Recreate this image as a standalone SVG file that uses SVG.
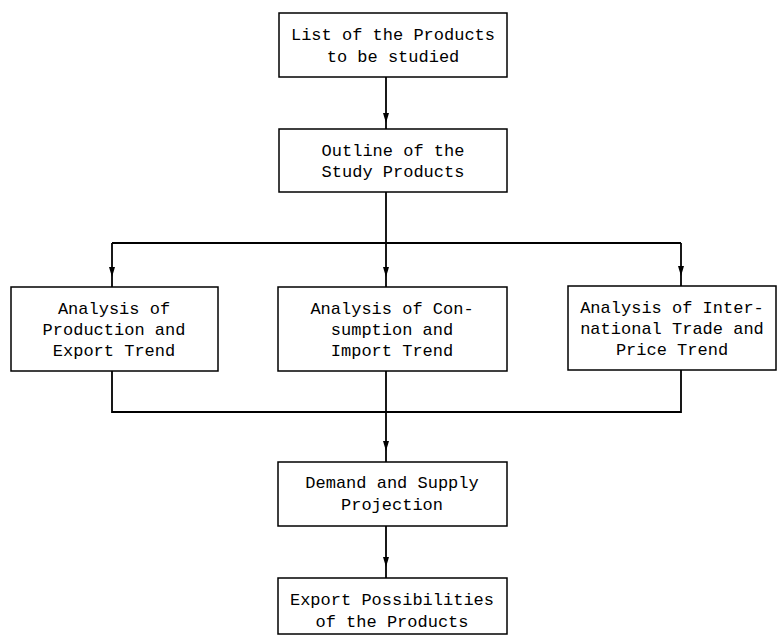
<svg xmlns="http://www.w3.org/2000/svg" width="779" height="636" viewBox="0 0 779 636">
<style>
.box{fill:#fff;stroke:#000;stroke-width:1.5}
.t{font-family:"Liberation Mono","Courier New",monospace;font-size:17px;fill:#000;text-anchor:middle}
.c{fill:none;stroke:#000;stroke-width:1.8}
</style>
<defs>
<marker id="ah" viewBox="0 0 10 6" refX="6" refY="3" markerWidth="10" markerHeight="6" markerUnits="userSpaceOnUse" orient="auto">
<path d="M0,0 L10,3 L0,6 Z" fill="#000"/>
</marker>
</defs>
<rect width="779" height="636" fill="#fff"/>
<g id="connectors">
<path class="c" d="M386 77 L386 119 L386 129" marker-mid="url(#ah)"/>
<path class="c" d="M386 192 L386 243"/>
<path class="c" d="M112 243 L681 243"/>
<path class="c" d="M112 243 L112 273 L112 287" marker-mid="url(#ah)"/>
<path class="c" d="M386 243 L386 273 L386 287" marker-mid="url(#ah)"/>
<path class="c" d="M681 243 L681 272 L681 286" marker-mid="url(#ah)"/>
<path class="c" d="M112 371 L112 412 L681 412 L681 370"/>
<path class="c" d="M386 371 L386 447 L386 462" marker-mid="url(#ah)"/>
<path class="c" d="M386 526 L386 563 L386 578" marker-mid="url(#ah)"/>
</g>
<g id="n1">
<rect class="box" x="279" y="13" width="228" height="64"/>
<text class="t" x="393" y="40">List of the Products</text>
<text class="t" x="393" y="62">to be studied</text>
</g>
<g id="n2">
<rect class="box" x="279" y="129" width="228" height="63"/>
<text class="t" x="393" y="156">Outline of the</text>
<text class="t" x="393" y="177">Study Products</text>
</g>
<g id="n3">
<rect class="box" x="11" y="287" width="207" height="84"/>
<text class="t" x="114" y="314">Analysis of</text>
<text class="t" x="114" y="335">Production and</text>
<text class="t" x="114" y="356">Export Trend</text>
</g>
<g id="n4">
<rect class="box" x="278" y="287" width="229" height="84"/>
<text class="t" x="392" y="314">Analysis of Con-</text>
<text class="t" x="392" y="335">sumption and</text>
<text class="t" x="392" y="356">Import Trend</text>
</g>
<g id="n5">
<rect class="box" x="568" y="286" width="208" height="84"/>
<text class="t" x="672" y="313">Analysis of Inter-</text>
<text class="t" x="672" y="334">national Trade and</text>
<text class="t" x="672" y="355">Price Trend</text>
</g>
<g id="n6">
<rect class="box" x="278" y="462" width="229" height="64"/>
<text class="t" x="392" y="488">Demand and Supply</text>
<text class="t" x="392" y="510">Projection</text>
</g>
<g id="n7">
<rect class="box" x="278" y="578" width="229" height="56"/>
<text class="t" x="392" y="605">Export Possibilities</text>
<text class="t" x="392" y="627">of the Products</text>
</g>
</svg>
